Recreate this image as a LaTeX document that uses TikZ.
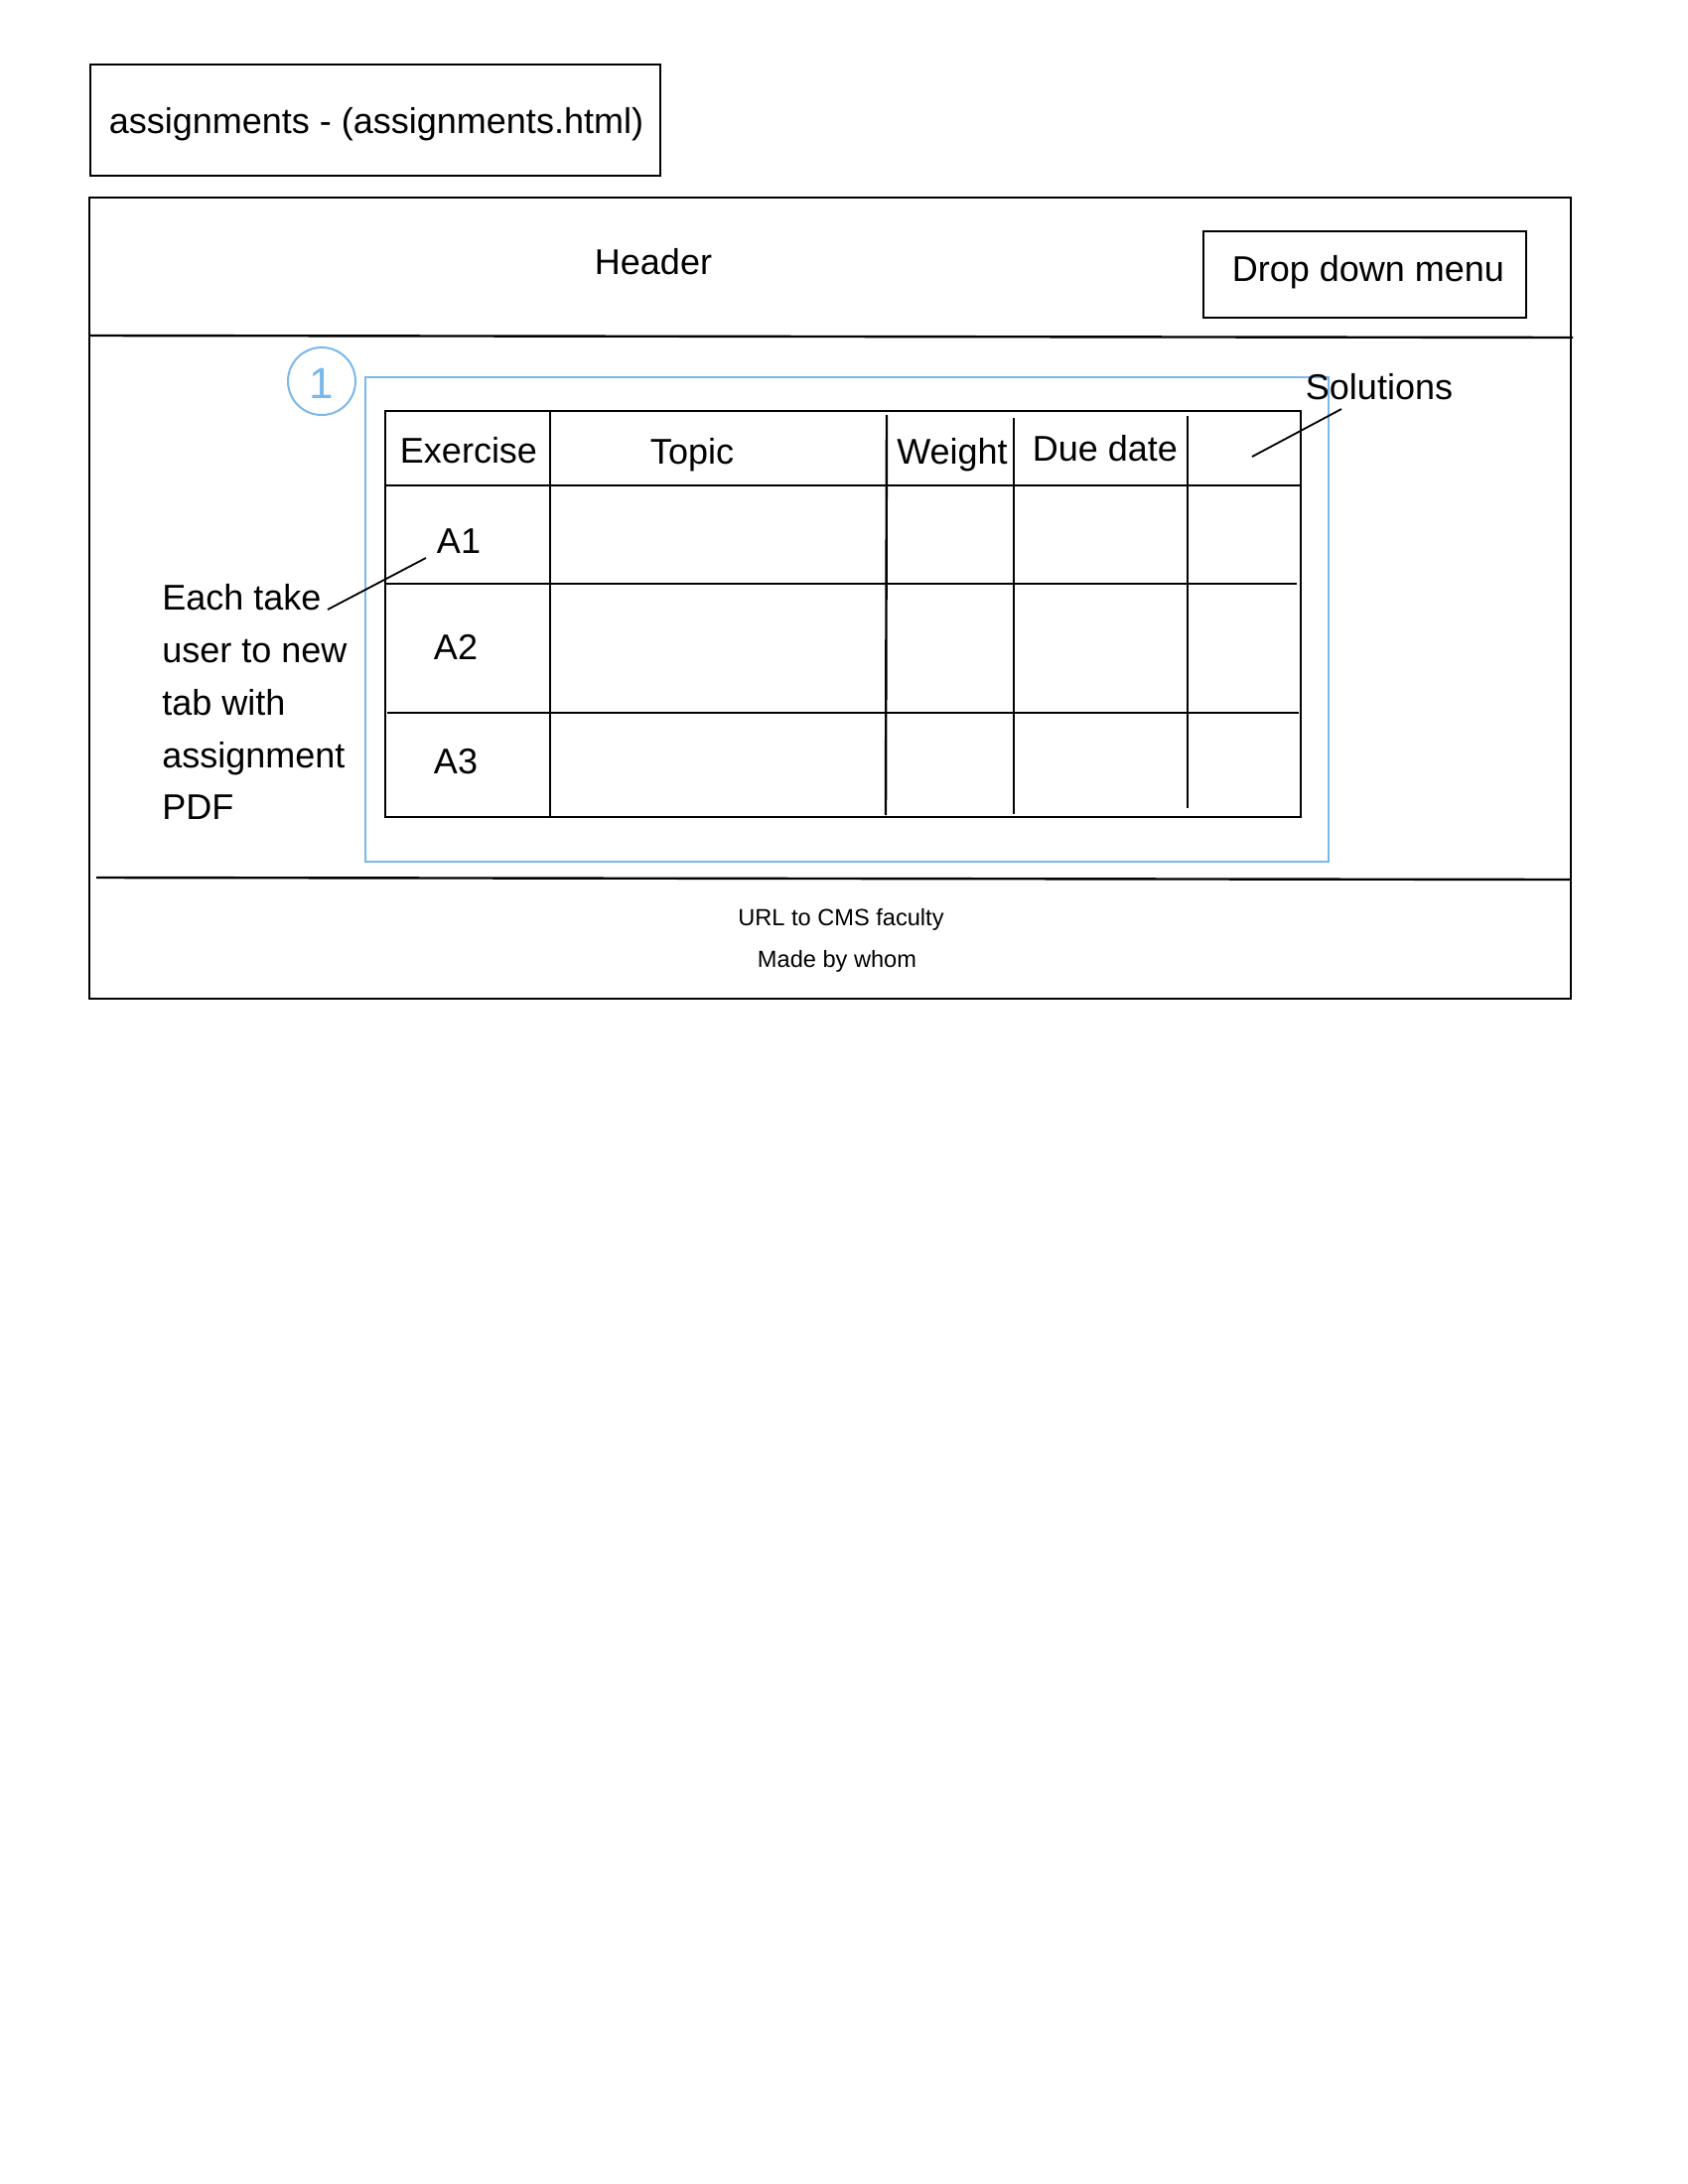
\documentclass[tikz,border=0pt]{standalone}
\usepackage{fontspec}
\setmainfont{Liberation Sans}
\definecolor{skyline}{RGB}{122,184,236}
\begin{document}
\begin{tikzpicture}[x=0.5pt,y=-0.5pt,
  frame/.style={draw=black,line width=1.2pt},
  grid/.style={draw=black,line width=1.2pt},
  pointer/.style={draw=black,line width=0.9pt},
  bluebox/.style={draw=skyline,line width=1pt},
  big/.style={inner sep=0pt,anchor=base,font=\fontsize{18}{21.6}\selectfont},
  bigw/.style={inner sep=0pt,anchor=base west,font=\fontsize{18}{21.6}\selectfont},
  small/.style={inner sep=0pt,anchor=base,font=\fontsize{11.8}{14}\selectfont}]
\useasboundingbox (0,0) rectangle (1700,2200);
\fill[white] (0,0) rectangle (1700,2200);

% title box
\draw[frame] (91,65) rectangle (665,177);
\node[big] (title) at (379,134) {assignments - (assignments.html)};

% main frame
\draw[frame] (90,199) rectangle (1582,1006);
\draw[frame] (90,338) -- (1584,340);
\draw[frame] (97,884) -- (1581,886);

% header
\node[big] (header) at (658,276) {Header};
\draw[frame] (1212,233) rectangle (1537,320);
\node[big] (menu) at (1378,283) {Drop down menu};

% blue selection
\draw[bluebox] (368,380) rectangle (1338,868);
\draw[bluebox] (324,384) circle (34);
\node[inner sep=0pt,anchor=base,text=skyline,font=\fontsize{22}{24}\selectfont] (one) at (324,401) {1};

% table
\draw[grid] (388,414) rectangle (1310,823);
\draw[grid] (388,489) -- (1310,489);
\draw[grid] (388,588) -- (1306,588);
\draw[grid] (390,718) -- (1308,718);
\draw[grid] (554,414) -- (554,823);
\draw[grid] (893,418) -- (892,821);
\draw[grid] (1021,421) -- (1021,820);
\draw[grid] (1196,419) -- (1196,814);

\node[big] (exercise) at (472,466) {Exercise};
\node[big] (topic) at (697,467) {Topic};
\node[big] (weight) at (959,467) {Weight};
\node[big] (due) at (1113,464) {Due date};
\node[big] (a1) at (462,557) {A1};
\node[big] (a2) at (459,664) {A2};
\node[big] (a3) at (459,779) {A3};

% solutions annotation
\node[big] (sol) at (1389,402) {Solutions};
\coordinate (solend) at (1261,460);
\draw[pointer] (1351,412) -- (solend);

% each take annotation
\node[bigw] (l1) at (163,614) {Each take};
\node[bigw] (l2) at (163,667) {user to new};
\node[bigw] (l3) at (163,720) {tab with};
\node[bigw] (l4) at (163,773) {assignment};
\node[bigw] (l5) at (163,825) {PDF};
\draw[pointer] (330,614) -- (429,562);

% footer
\node[small] (url) at (847,932) {URL to CMS faculty};
\node[small] (made) at (843,974) {Made by whom};
\end{tikzpicture}
\end{document}
